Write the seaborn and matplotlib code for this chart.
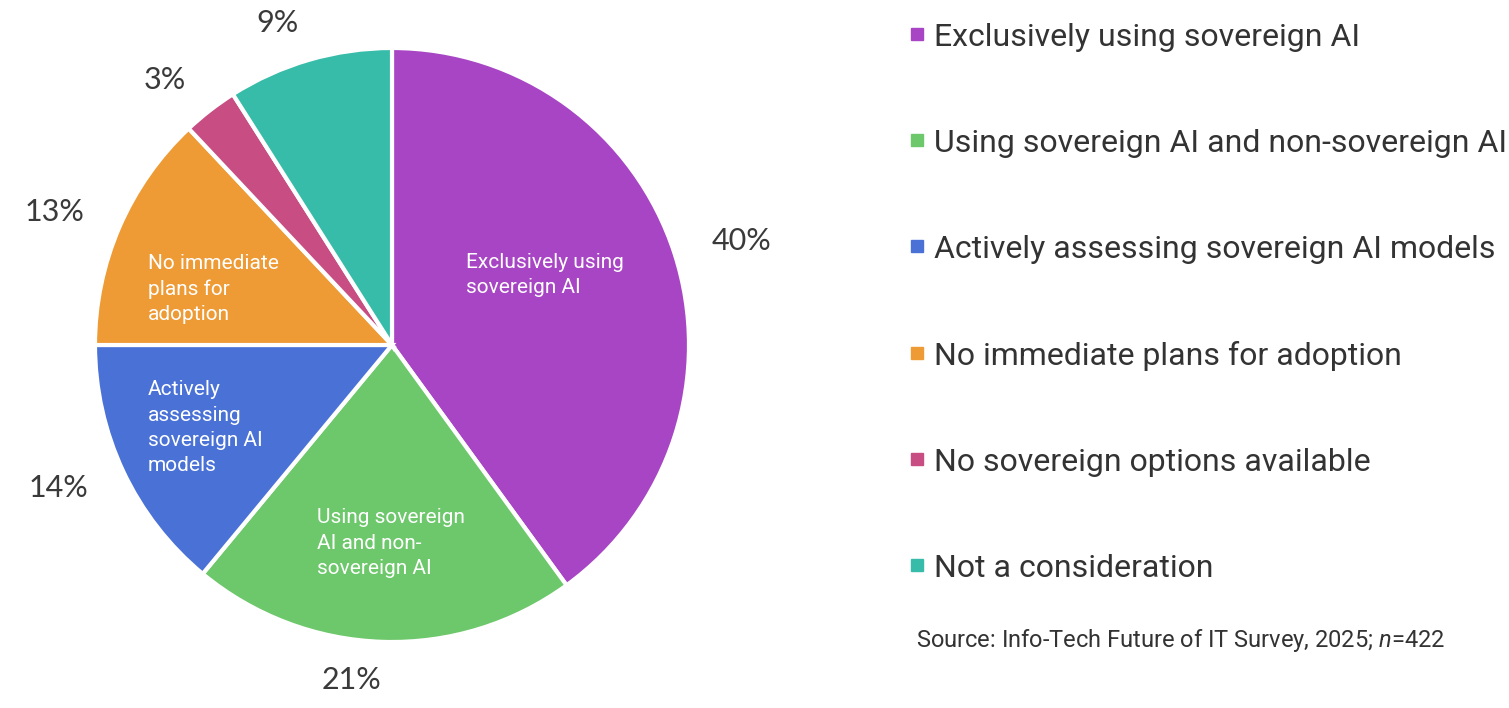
import seaborn as sns
import matplotlib.pyplot as plt
from matplotlib.lines import Line2D

# data
categories = [
    "Exclusively using sovereign AI",
    "Using sovereign AI and non-sovereign AI",
    "Actively assessing sovereign AI models",
    "No immediate plans for adoption",
    "No sovereign options available",
    "Not a consideration",
]
shares = [40, 21, 14, 13, 3, 9]
pct_labels = ["40%", "21%", "14%", "13%", "3%", "9%"]
inner_labels = [
    "Exclusively using\nsovereign AI",
    "Using sovereign\nAI and non-\nsovereign AI",
    "Actively\nassessing\nsovereign AI\nmodels",
    "No immediate\nplans for\nadoption",
    "",
    "",
]
colors = ["#A845C4", "#6DC76B", "#4A72D6", "#EE9A35", "#C84D82", "#38BCAA"]

sns.set_theme(style="white")
plt.rcParams["font.family"] = ["Roboto", "DejaVu Sans"]
plt.rcParams["mathtext.fontset"] = "custom"
plt.rcParams["mathtext.it"] = "Roboto:italic"
plt.rcParams["mathtext.rm"] = "Roboto"

W, H = 1509, 708
fig = plt.figure(figsize=(W / 100, H / 100), dpi=100)
# pie axes: centre (392, 345) px, radius 297 px
cx, cy, r = 392, 345, 297
ax = fig.add_axes([(cx - r) / W, (H - cy - r) / H, 2 * r / W, 2 * r / H])

wedges, texts = ax.pie(
    shares, colors=colors, startangle=90, counterclock=False,
    labels=pct_labels, labeldistance=1.13,
    wedgeprops=dict(edgecolor="white", linewidth=3),
    textprops=dict(fontsize=22, color="#3a3a3a", family=["Lato", "DejaVu Sans"]),
)
ax.set_xlim(-1, 1)
ax.set_ylim(-1, 1)
ax.set_aspect("equal")

# labels inside the big slices (block left edge, block centre), in pie radius units
inner_pos = [(0.249, 0.236), (-0.253, -0.667), (-0.822, -0.279), (-0.822, 0.189)]
for (x, y), txt in zip(inner_pos, inner_labels):
    ax.text(x, y, txt, ha="left", va="center", color="white", fontsize=15,
            linespacing=1.42)

handles = [Line2D([0], [0], marker="s", linestyle="", markersize=8,
                  markerfacecolor=c, markeredgecolor=c) for c in colors]
fig.legend(handles, categories, loc="upper left", bbox_to_anchor=(0.598, 0.968),
           frameon=False, fontsize=23, labelcolor="#333333", handletextpad=0.1,
           handlelength=0.9, labelspacing=2.41, borderpad=0, borderaxespad=0)

fig.text(916 / W, 1 - 640 / H, "Source: Info-Tech Future of IT Survey, 2025; $n$=422",
         ha="left", va="center", fontsize=17, color="#333333")

plt.savefig("out.png", dpi=100)
